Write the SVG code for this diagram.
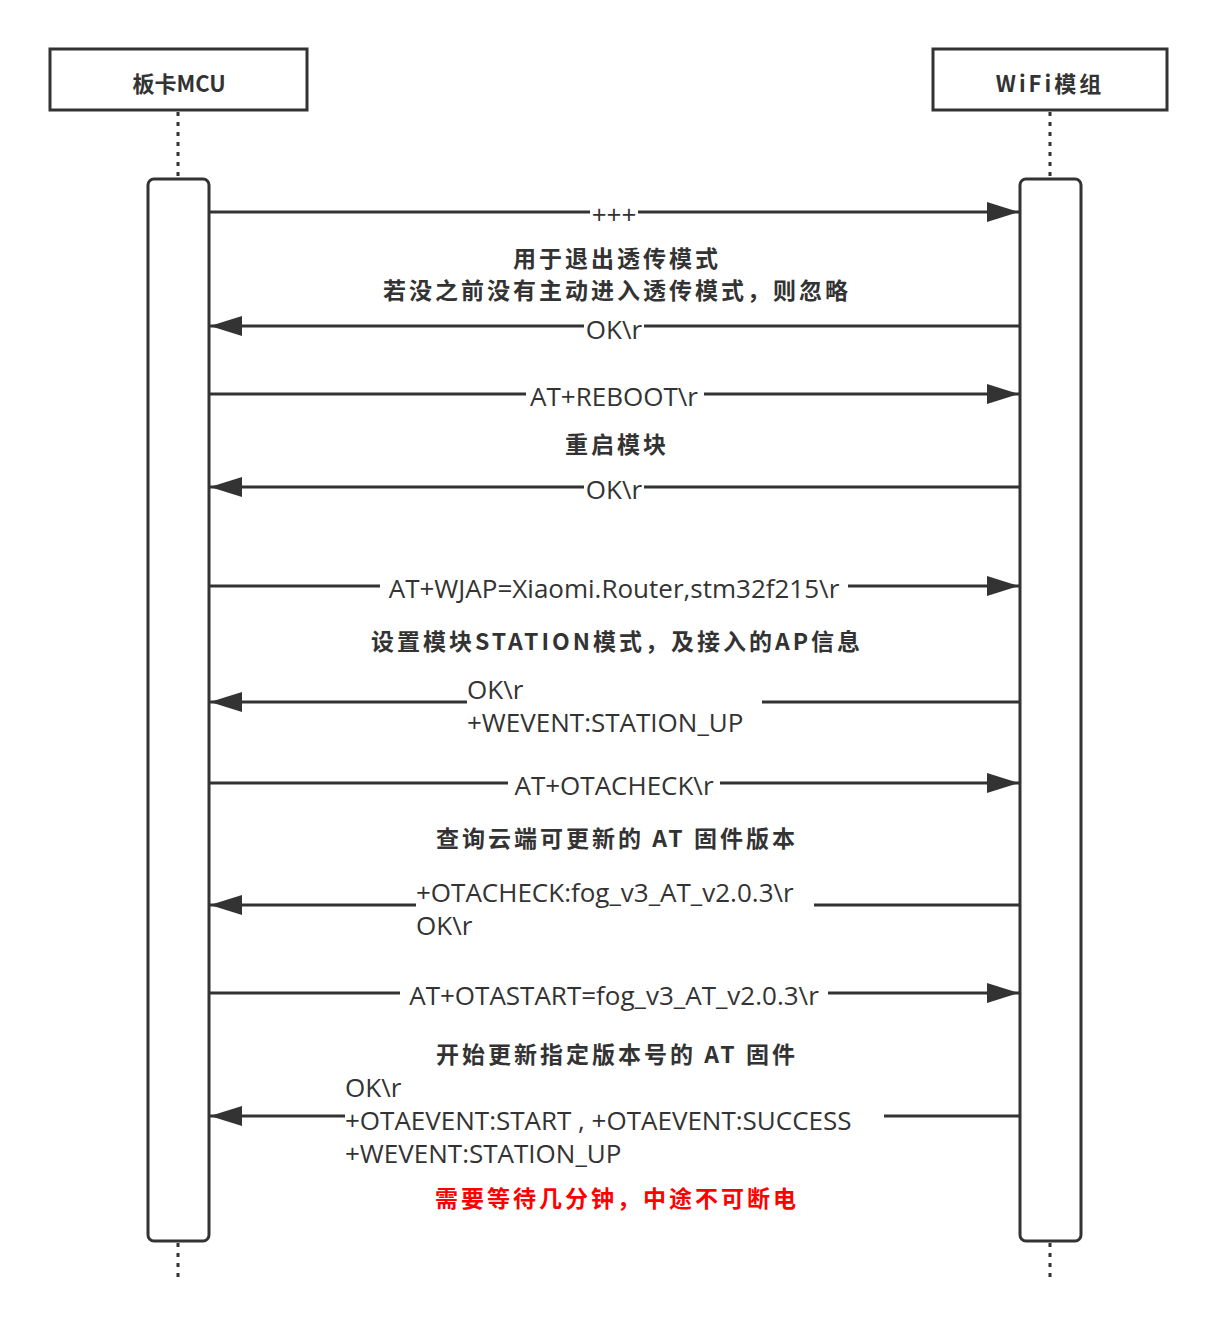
<svg xmlns="http://www.w3.org/2000/svg" width="1215" height="1328" viewBox="0 0 1215 1328">
<style>
.box{fill:#fff;stroke:#333;stroke-width:3}
.dash{stroke:#333;stroke-width:3;stroke-dasharray:4 6;fill:none}
.ln{stroke:#333;stroke-width:3;fill:none}
.bg{fill:#fff}
.lb{font-family:"Open Sans","Noto Sans CJK SC",sans-serif;font-size:26px;fill:#333}
.nt{font-family:"Noto Sans CJK SC",sans-serif;font-size:23px;letter-spacing:3px;font-weight:bold;fill:#333;text-anchor:middle}
.hd{font-family:"Noto Sans CJK SC",sans-serif;font-size:22px;font-weight:bold;fill:#333;text-anchor:middle}
</style>
<defs>
<marker id="ah" viewBox="0 0 32 20" refX="32" refY="10" markerWidth="32" markerHeight="20" markerUnits="userSpaceOnUse" orient="auto"><path d="M0,0 L32,10 L0,20 Z" fill="#333"/></marker>
</defs>
<g id="mcu">
<rect class="box" x="50" y="49" width="257" height="61"/>
<text class="hd" x="179" y="92">板卡MCU</text>
<path class="dash" d="M178,112 V178 M178,1243 V1280"/>
<rect class="box" x="148" y="179" width="61" height="1062" rx="6"/>
</g>
<g id="wifi">
<rect class="box" x="933" y="49" width="234" height="61"/>
<text class="hd" x="1050" y="92" letter-spacing="3">WiFi模组</text>
<path class="dash" d="M1050,112 V178 M1050,1243 V1280"/>
<rect class="box" x="1020" y="179" width="61" height="1062" rx="6"/>
</g>
<g id="connectors">
<path class="ln" marker-end="url(#ah)" d="M210,212 H1019"/>
<path class="ln" marker-end="url(#ah)" d="M1019,326 H210"/>
<path class="ln" marker-end="url(#ah)" d="M210,394 H1019"/>
<path class="ln" marker-end="url(#ah)" d="M1019,487 H210"/>
<path class="ln" marker-end="url(#ah)" d="M210,586 H1019"/>
<path class="ln" marker-end="url(#ah)" d="M1019,702 H762 M467,702 H210"/>
<path class="ln" marker-end="url(#ah)" d="M210,783 H1019"/>
<path class="ln" marker-end="url(#ah)" d="M1019,905 H814 M416,905 H210"/>
<path class="ln" marker-end="url(#ah)" d="M210,993 H1019"/>
<path class="ln" marker-end="url(#ah)" d="M1019,1116 H884 M345,1116 H210"/>
<rect class="bg" x="590" y="200" width="48" height="24"/>
<rect class="bg" x="584" y="314" width="60" height="24"/>
<rect class="bg" x="526" y="382" width="178" height="24"/>
<rect class="bg" x="584" y="475" width="60" height="24"/>
<rect class="bg" x="380" y="574" width="468" height="24"/>
<rect class="bg" x="508" y="771" width="212" height="24"/>
<rect class="bg" x="400" y="981" width="428" height="24"/>
<g text-anchor="middle">
<text class="lb" x="614" y="224">+++</text>
<text class="lb" x="614" y="339">OK\r</text>
<text class="lb" x="614" y="406">AT+REBOOT\r</text>
<text class="lb" x="614" y="499">OK\r</text>
<text class="lb" x="614" y="598">AT+WJAP=Xiaomi.Router,stm32f215\r</text>
<text class="lb" x="614" y="795">AT+OTACHECK\r</text>
<text class="lb" x="614" y="1005">AT+OTASTART=fog_v3_AT_v2.0.3\r</text>
</g>
<text class="lb" x="467" y="699">OK\r</text>
<text class="lb" x="467" y="732">+WEVENT:STATION_UP</text>
<text class="lb" x="416" y="902">+OTACHECK:fog_v3_AT_v2.0.3\r</text>
<text class="lb" x="416" y="935">OK\r</text>
<text class="lb" x="345" y="1097">OK\r</text>
<text class="lb" x="345" y="1130">+OTAEVENT:START , +OTAEVENT:SUCCESS</text>
<text class="lb" x="345" y="1163">+WEVENT:STATION_UP</text>
</g>
<g id="notes">
<text class="nt" x="617" y="267">用于退出透传模式</text>
<text class="nt" x="617" y="299">若没之前没有主动进入透传模式，则忽略</text>
<text class="nt" x="617" y="453">重启模块</text>
<text class="nt" x="617" y="650">设置模块STATION模式，及接入的AP信息</text>
<text class="nt" x="617" y="847">查询云端可更新的 AT 固件版本</text>
<text class="nt" x="617" y="1063">开始更新指定版本号的 AT 固件</text>
<text class="nt" x="617" y="1207" style="fill:#ff0000">需要等待几分钟，中途不可断电</text>
</g>
</svg>
